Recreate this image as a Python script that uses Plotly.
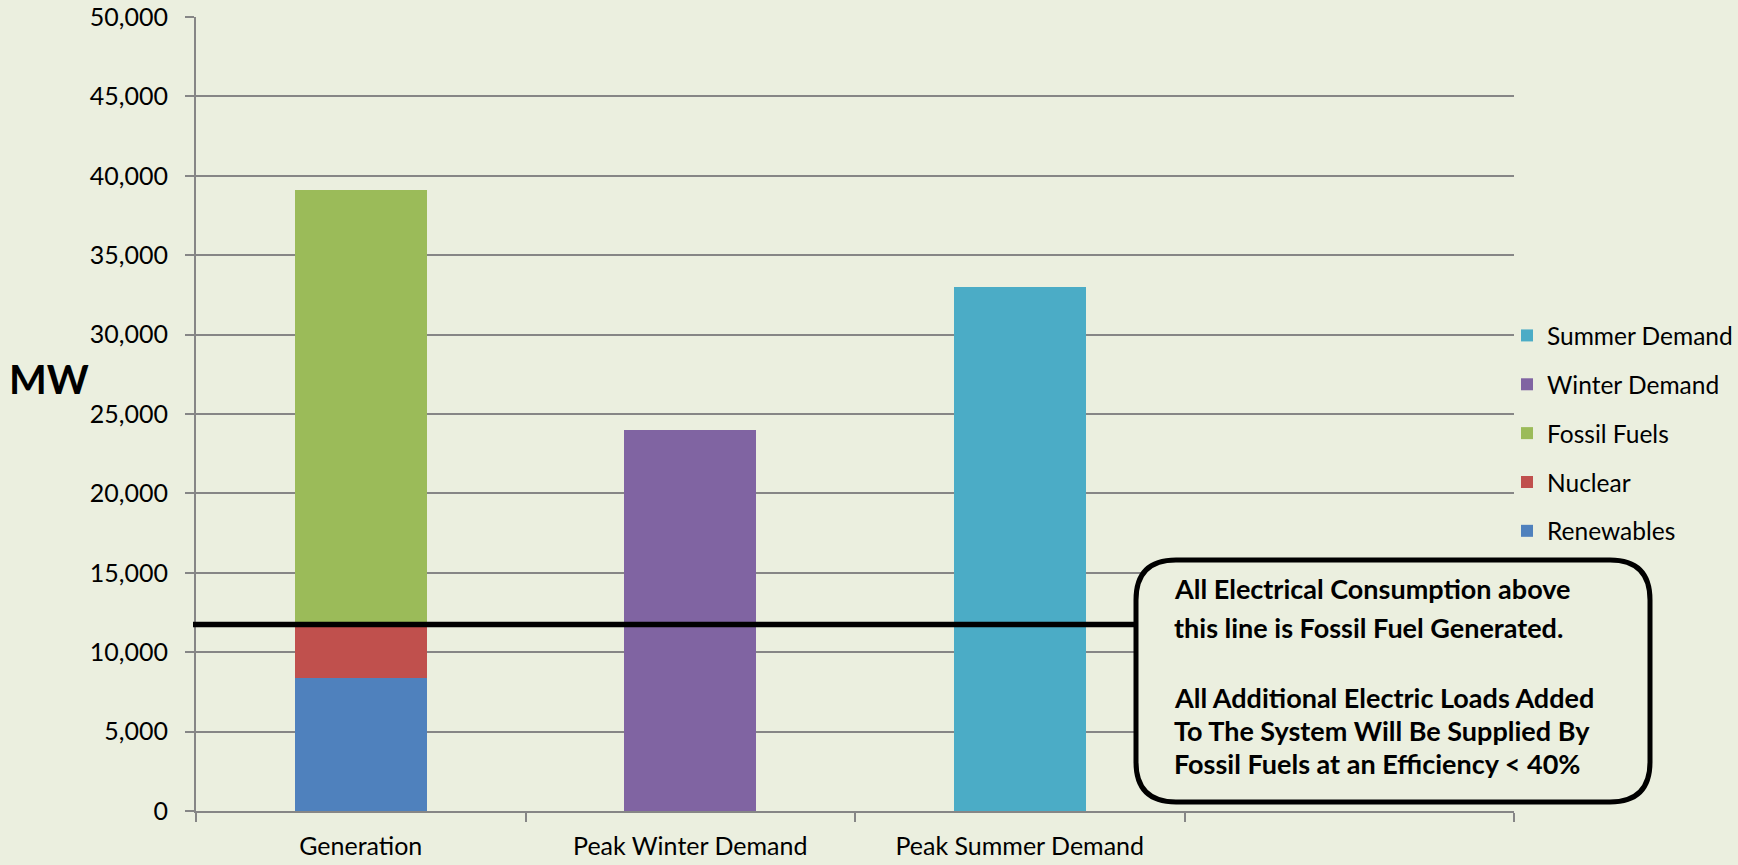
import plotly.graph_objects as go

categories = ["Generation", "Peak Winter Demand", "Peak Summer Demand", " "]
renewables = [8400, None, None, None]
nuclear = [3500, None, None, None]
fossil_fuels = [27200, None, None, None]
winter_demand = [None, 24000, None, None]
summer_demand = [None, None, 33000, None]
fossil_threshold = 11750
y_ticks = list(range(0, 50001, 5000))

series = [
    ("Renewables", renewables, "#4F81BD", 5),
    ("Nuclear", nuclear, "#C0504D", 4),
    ("Fossil Fuels", fossil_fuels, "#9BBB59", 3),
    ("Winter Demand", winter_demand, "#8064A2", 2),
    ("Summer Demand", summer_demand, "#4BACC6", 1),
]

callout_lines = [
    "All Electrical Consumption above",
    "this line is Fossil Fuel Generated.",
    "",
    "All Additional Electric Loads Added",
    "To The System Will Be Supplied By",
    "Fossil Fuels at an Efficiency &lt; 40%",
]

BG = "#EBEFDF"
FONT = "Lato"

W, H = 1738, 865
ML, MT, MB = 196, 17, 54
PLOT_R = 1514
PW = W - ML
PH = H - MT - MB


def px(xp):
    return (xp - ML) / PW


def py(yp):
    return (H - MB - yp) / PH


fig = go.Figure()
for name, vals, col, rank in series:
    fig.add_trace(go.Bar(
        x=categories, y=vals, name=name, marker=dict(color=col, line=dict(width=0)),
        legendgroup=name, legendrank=rank,
    ))

fig.update_layout(
    width=W, height=H,
    paper_bgcolor=BG, plot_bgcolor=BG,
    barmode="stack", bargap=0.6,
    margin=dict(l=ML, r=0, t=MT, b=MB),
    font=dict(family=FONT, size=22, color="#000000"),
    showlegend=True,
    legend=dict(
        x=px(1507), xanchor="left", y=py(313), yanchor="top",
        traceorder="grouped", tracegroupgap=14,
        font=dict(family=FONT, size=24.5, color="#000000"),
        bgcolor="rgba(0,0,0,0)",
    ),
    xaxis=dict(
        type="category", categoryorder="array", categoryarray=categories,
        range=[-0.5, 3.5], automargin=False, domain=[0, px(PLOT_R)],
        showgrid=False, showline=True, linecolor="#868686", linewidth=2,
        ticks="outside", tickson="boundaries", ticklen=9, tickcolor="#868686", tickwidth=2,
        tickfont=dict(family=FONT, size=25, color="#000000"),
        ticklabelstandoff=12,
    ),
    yaxis=dict(
        range=[0, 50000], tickvals=y_ticks, automargin=False,
        ticktext=[f"{v:,}" for v in y_ticks],
        showgrid=True, gridcolor="#868686", gridwidth=2,
        showline=True, linecolor="#868686", linewidth=2,
        ticks="outside", ticklen=9, tickcolor="#868686", tickwidth=2,
        tickfont=dict(family=FONT, size=25, color="#000000"),
        ticklabelstandoff=12,
        zeroline=False,
    ),
)

# threshold line
fig.add_shape(type="line", xref="paper", yref="y",
              x0=px(193), x1=px(1137), y0=fossil_threshold, y1=fossil_threshold,
              line=dict(color="#000000", width=5.5), layer="above")

# rounded callout box
x0, x1 = px(1136), px(1650)
y0, y1 = py(802), py(560)
rx, ry = 40 / PW, 40 / PH
path = (f"M{x0+rx},{y0} L{x1-rx},{y0} Q{x1},{y0} {x1},{y0+ry} "
        f"L{x1},{y1-ry} Q{x1},{y1} {x1-rx},{y1} "
        f"L{x0+rx},{y1} Q{x0},{y1} {x0},{y1-ry} "
        f"L{x0},{y0+ry} Q{x0},{y0} {x0+rx},{y0} Z")
fig.add_shape(type="path", xref="paper", yref="paper", path=path,
              fillcolor=BG, line=dict(color="#000000", width=5), layer="above")

line_px = [588, 627, 662, 697, 730, 763]
for txt, yp in zip(callout_lines, line_px):
    if not txt:
        continue
    fig.add_annotation(
        xref="paper", yref="paper", x=px(1172), y=py(yp),
        xanchor="left", yanchor="middle", align="left", showarrow=False,
        text=f"<b>{txt}</b>",
        font=dict(family=FONT, size=27, color="#000000"),
    )

fig.add_annotation(
    xref="paper", yref="paper", x=px(49), y=py(379), xanchor="center", yanchor="middle",
    showarrow=False, text="<b>MW</b>",
    font=dict(family=FONT, size=40, color="#000000"),
)

fig.write_html("out.html")
